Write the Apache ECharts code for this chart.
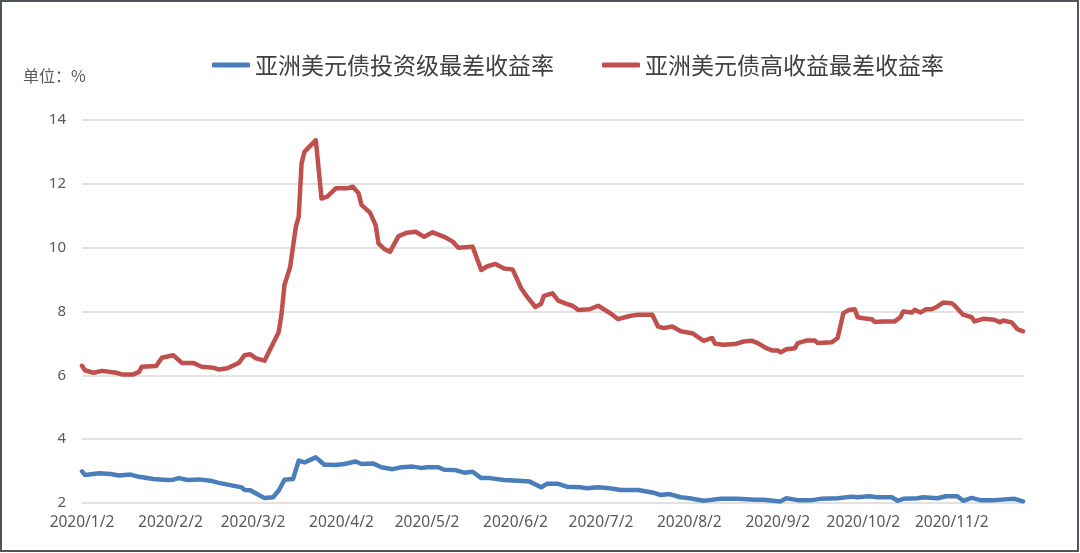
<!DOCTYPE html>
<html>
<head>
<meta charset="utf-8">
<script src="https://cdn.jsdelivr.net/npm/echarts@6/dist/echarts.min.js"></script>
<style>
  html, body { margin: 0; padding: 0; background: #fff; }
  #chart { width: 1080px; height: 553px; }
</style>
</head>
<body>
<div id="chart"></div>
<script>
// 亚洲美元债最差收益率（%），读自原图
const seriesNames = ["亚洲美元债投资级最差收益率", "亚洲美元债高收益最差收益率"];
const tickDates = ["2020-01-02", "2020-02-02", "2020-03-02", "2020-04-02", "2020-05-02", "2020-06-02",
  "2020-07-02", "2020-08-02", "2020-09-02", "2020-10-02", "2020-11-02"];

const igDates = ["2020-01-02", "2020-01-03", "2020-01-08", "2020-01-12", "2020-01-15", "2020-01-19", "2020-01-22",
  "2020-01-27", "2020-02-01", "2020-02-03", "2020-02-05", "2020-02-08", "2020-02-12", "2020-02-16", "2020-02-19",
  "2020-02-23", "2020-02-27", "2020-02-28", "2020-03-01", "2020-03-04", "2020-03-06", "2020-03-09", "2020-03-11",
  "2020-03-13", "2020-03-16", "2020-03-18", "2020-03-20", "2020-03-22", "2020-03-24", "2020-03-27", "2020-03-29",
  "2020-03-31", "2020-04-03", "2020-04-07", "2020-04-09", "2020-04-13", "2020-04-16", "2020-04-20", "2020-04-23",
  "2020-04-27", "2020-04-30", "2020-05-02", "2020-05-06", "2020-05-08", "2020-05-12", "2020-05-15", "2020-05-18",
  "2020-05-21", "2020-05-24", "2020-05-29", "2020-06-03", "2020-06-07", "2020-06-11", "2020-06-13", "2020-06-17",
  "2020-06-20", "2020-06-25", "2020-06-27", "2020-07-01", "2020-07-05", "2020-07-09", "2020-07-15", "2020-07-20",
  "2020-07-23", "2020-07-26", "2020-07-30", "2020-08-02", "2020-08-07", "2020-08-09", "2020-08-13", "2020-08-19",
  "2020-08-25", "2020-08-28", "2020-09-03", "2020-09-05", "2020-09-09", "2020-09-14", "2020-09-17", "2020-09-23",
  "2020-09-28", "2020-09-30", "2020-10-04", "2020-10-07", "2020-10-12", "2020-10-14", "2020-10-16", "2020-10-21",
  "2020-10-23", "2020-10-28", "2020-10-31", "2020-11-04", "2020-11-06", "2020-11-09", "2020-11-12", "2020-11-17",
  "2020-11-24", "2020-11-27"];
const igValues = [2.99, 2.88, 2.93, 2.91, 2.86, 2.89, 2.82,
  2.75, 2.72, 2.73, 2.78, 2.72, 2.74, 2.70, 2.63,
  2.56, 2.49, 2.41, 2.40, 2.25, 2.16, 2.18, 2.39,
  2.73, 2.75, 3.33, 3.27, 3.35, 3.43, 3.20, 3.20,
  3.19, 3.22, 3.30, 3.22, 3.24, 3.12, 3.06, 3.12,
  3.14, 3.10, 3.12, 3.12, 3.04, 3.03, 2.95, 2.98,
  2.78, 2.78, 2.72, 2.70, 2.67, 2.49, 2.60, 2.60,
  2.51, 2.49, 2.46, 2.49, 2.46, 2.41, 2.41, 2.33,
  2.25, 2.28, 2.18, 2.15, 2.07, 2.09, 2.13, 2.13,
  2.10, 2.10, 2.05, 2.15, 2.09, 2.09, 2.13, 2.15,
  2.20, 2.18, 2.21, 2.18, 2.18, 2.07, 2.13, 2.15,
  2.18, 2.15, 2.21, 2.21, 2.07, 2.16, 2.09, 2.09,
  2.13, 2.05];

const hyDates = ["2020-01-02", "2020-01-03", "2020-01-06", "2020-01-09", "2020-01-14", "2020-01-16", "2020-01-20",
  "2020-01-22", "2020-01-23", "2020-01-28", "2020-01-30", "2020-02-03", "2020-02-06", "2020-02-10", "2020-02-13",
  "2020-02-17", "2020-02-19", "2020-02-22", "2020-02-26", "2020-02-28", "2020-03-01", "2020-03-03", "2020-03-06",
  "2020-03-09", "2020-03-11", "2020-03-12", "2020-03-13", "2020-03-15", "2020-03-17", "2020-03-18", "2020-03-19",
  "2020-03-20", "2020-03-24", "2020-03-26", "2020-03-28", "2020-03-31", "2020-04-04", "2020-04-06", "2020-04-08",
  "2020-04-09", "2020-04-12", "2020-04-14", "2020-04-15", "2020-04-17", "2020-04-19", "2020-04-22", "2020-04-25",
  "2020-04-28", "2020-05-01", "2020-05-04", "2020-05-08", "2020-05-11", "2020-05-13", "2020-05-18", "2020-05-21",
  "2020-05-23", "2020-05-26", "2020-05-29", "2020-06-01", "2020-06-04", "2020-06-06", "2020-06-09", "2020-06-11",
  "2020-06-12", "2020-06-15", "2020-06-17", "2020-06-20", "2020-06-22", "2020-06-24", "2020-06-28", "2020-07-01",
  "2020-07-03", "2020-07-06", "2020-07-08", "2020-07-12", "2020-07-15", "2020-07-20", "2020-07-22", "2020-07-24",
  "2020-07-27", "2020-07-30", "2020-08-03", "2020-08-07", "2020-08-10", "2020-08-11", "2020-08-14", "2020-08-18",
  "2020-08-21", "2020-08-24", "2020-08-26", "2020-08-29", "2020-08-31", "2020-09-02", "2020-09-03", "2020-09-05",
  "2020-09-08", "2020-09-09", "2020-09-12", "2020-09-15", "2020-09-16", "2020-09-21", "2020-09-23", "2020-09-25",
  "2020-09-27", "2020-09-29", "2020-09-30", "2020-10-02", "2020-10-05", "2020-10-06", "2020-10-09", "2020-10-13",
  "2020-10-15", "2020-10-16", "2020-10-19", "2020-10-20", "2020-10-22", "2020-10-24", "2020-10-26", "2020-10-28",
  "2020-10-30", "2020-11-02", "2020-11-03", "2020-11-06", "2020-11-09", "2020-11-10", "2020-11-13", "2020-11-17",
  "2020-11-19", "2020-11-20", "2020-11-23", "2020-11-25", "2020-11-27"];
const hyValues = [6.30, 6.16, 6.08, 6.14, 6.08, 6.03, 6.03,
  6.11, 6.27, 6.29, 6.55, 6.63, 6.39, 6.39, 6.27,
  6.24, 6.18, 6.22, 6.39, 6.63, 6.66, 6.53, 6.46,
  7.00, 7.36, 7.94, 8.83, 9.40, 10.66, 10.97, 12.64,
  13.00, 13.37, 11.54, 11.60, 11.86, 11.86, 11.91, 11.70,
  11.34, 11.10, 10.70, 10.13, 9.96, 9.87, 10.36, 10.47,
  10.50, 10.34, 10.48, 10.34, 10.19, 10.00, 10.03, 9.30,
  9.41, 9.49, 9.35, 9.32, 8.73, 8.47, 8.14, 8.24,
  8.49, 8.57, 8.34, 8.24, 8.18, 8.05, 8.07, 8.18,
  8.07, 7.90, 7.76, 7.86, 7.90, 7.90, 7.53, 7.48,
  7.53, 7.38, 7.32, 7.08, 7.17, 6.99, 6.96, 6.98,
  7.06, 7.08, 7.01, 6.85, 6.78, 6.78, 6.72, 6.82,
  6.85, 7.01, 7.09, 7.09, 7.01, 7.04, 7.17, 7.95,
  8.05, 8.07, 7.82, 7.79, 7.76, 7.67, 7.69, 7.69,
  7.82, 8.00, 7.97, 8.05, 7.97, 8.07, 8.07, 8.16,
  8.28, 8.26, 8.19, 7.90, 7.82, 7.69, 7.77, 7.74,
  7.66, 7.72, 7.66, 7.45, 7.38];

const colors = ["#4a7ebb", "#c0504d"];

// 日期字符串转为当天 UTC 毫秒数
function ts(d) {
  let p = d.split("-");
  return Date.UTC(+p[0], +p[1] - 1, +p[2]);
}
function pairs(dates, values) {
  return dates.map((d, i) => [ts(d), values[i]]);
}
function fmtDate(v) {
  let d = new Date(v);
  return d.getUTCFullYear() + "/" + (d.getUTCMonth() + 1) + "/" + d.getUTCDate();
}

const chart = echarts.init(document.getElementById("chart"));
const labelFont = "'Noto Sans', 'Noto Sans CJK SC', sans-serif";

chart.setOption({
  animation: false,
  color: colors,
  title: {
    text: "单位：%",
    left: 18,
    top: 63,
    textStyle: { fontSize: 16, fontWeight: "normal", color: "#595959", fontFamily: "'Noto Sans CJK SC', sans-serif" }
  },
  legend: {
    data: seriesNames,
    left: 207,
    top: 46,
    icon: "roundRect",
    itemWidth: 38,
    itemHeight: 5,
    itemGap: 48,
    textStyle: { fontSize: 23, color: "#404040", lineHeight: 28, fontFamily: "'Noto Sans CJK SC', sans-serif" }
  },
  grid: { left: 82, right: 57, top: 120, bottom: 50, containLabel: false },
  xAxis: {
    type: "value",
    min: ts("2020-01-02"),
    max: ts("2020-11-27"),
    axisLine: { show: false },
    axisTick: { show: false },
    splitLine: { show: false },
    axisLabel: {
      customValues: tickDates.map(ts),
      formatter: fmtDate,
      fontSize: 15.5,
      color: "#595959",
      margin: 12,
      fontFamily: labelFont,
      hideOverlap: false
    }
  },
  yAxis: {
    type: "value",
    min: 2,
    max: 14,
    interval: 2,
    axisLine: { show: false },
    axisTick: { show: false },
    splitLine: { lineStyle: { color: "#d9d9d9", width: 1.5 } },
    axisLabel: { fontSize: 15, color: "#595959", margin: 16, fontFamily: labelFont }
  },
  graphic: [{
    type: "rect",
    shape: { x: 1, y: 1, width: 1077, height: 550 },
    style: { fill: "none", stroke: "#50555b", lineWidth: 2 },
    silent: true
  }],
  series: [
    {
      name: seriesNames[0],
      type: "line",
      data: pairs(igDates, igValues),
      showSymbol: false,
      lineStyle: { width: 4.5, color: colors[0], cap: "round", join: "round" }
    },
    {
      name: seriesNames[1],
      type: "line",
      data: pairs(hyDates, hyValues),
      showSymbol: false,
      lineStyle: { width: 4.5, color: colors[1], cap: "round", join: "round" }
    }
  ]
});
</script>
</body>
</html>
